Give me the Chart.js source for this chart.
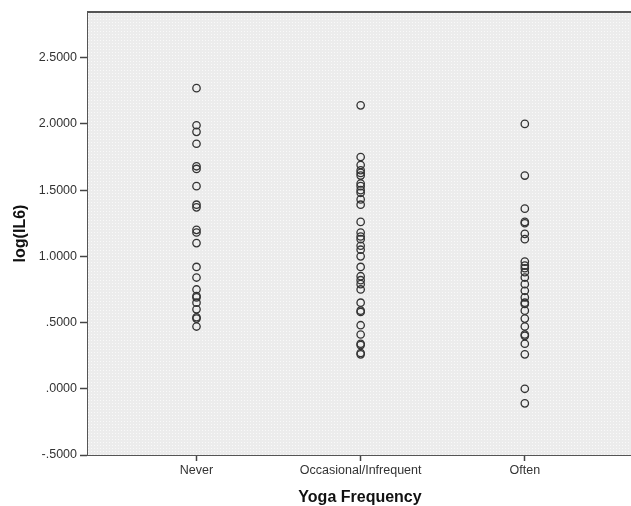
<!DOCTYPE html>
<html>
<head>
<meta charset="utf-8">
<script src="https://cdn.jsdelivr.net/npm/chart.js@4"></script>
<style>
  html, body { margin: 0; padding: 0; background: #fff; overflow: hidden; }
  /* plot runs off the right edge in the original, so the canvas is a bit wider than the window */
  #wrap { width: 637px; height: 506px; position: relative; }
</style>
</head>
<body>
<div id="wrap"><canvas id="yogaChart"></canvas></div>
<script>
// categories on the x axis
const categories = ['Never', 'Occasional/Infrequent', 'Often']

// log(IL6) values, one array per category
const never = [2.27, 1.99, 1.94, 1.85, 1.68, 1.66, 1.53, 1.39, 1.37, 1.20, 1.18, 1.10,
  0.92, 0.84, 0.75, 0.70, 0.69, 0.65, 0.60, 0.54, 0.53, 0.47]
const occasional = [2.14, 1.75, 1.69, 1.65, 1.63, 1.61, 1.55, 1.53, 1.50, 1.48, 1.43, 1.39,
  1.26, 1.18, 1.15, 1.13, 1.08, 1.05, 1.00, 0.92, 0.85, 0.82, 0.79, 0.75, 0.65, 0.59,
  0.58, 0.48, 0.41, 0.34, 0.33, 0.27, 0.26]
const often = [2.00, 1.61, 1.36, 1.26, 1.25, 1.17, 1.13, 0.96, 0.93, 0.91, 0.88, 0.84,
  0.79, 0.74, 0.69, 0.65, 0.64, 0.59, 0.53, 0.47, 0.41, 0.40, 0.34, 0.26, 0.00, -0.11]

// y tick values and their labels
const yTicks = [-0.5, 0, 0.5, 1, 1.5, 2, 2.5]
const yTickLabels = ['-.5000', '.0000', '.5000', '1.0000', '1.5000', '2.0000', '2.5000']

const series = [never, occasional, often]
const points = []
series.forEach((values, i) => {
  values.forEach(v => points.push({ x: i + 1, y: v }))
})

function makePattern() {
  const c = document.createElement('canvas')
  c.width = 3
  c.height = 3
  const g = c.getContext('2d')
  g.fillStyle = '#ececec'
  g.fillRect(0, 0, 3, 3)
  g.fillStyle = '#f9f9f9'
  g.fillRect(1, 1, 1, 1)
  return g.createPattern(c, 'repeat')
}

const plotFrame = {
  id: 'plotFrame',
  beforeDatasetsDraw(chart) {
    const { ctx, chartArea } = chart
    ctx.save()
    ctx.fillStyle = makePattern()
    ctx.fillRect(chartArea.left, chartArea.top, chartArea.right - chartArea.left, chartArea.bottom - chartArea.top)
    ctx.restore()
  },
  afterDatasetsDraw(chart) {
    const { ctx, chartArea } = chart
    ctx.save()
    ctx.strokeStyle = '#555'
    ctx.lineWidth = 2
    ctx.beginPath()
    ctx.moveTo(chartArea.left, chartArea.top)
    ctx.lineTo(chartArea.right, chartArea.top)
    ctx.stroke()
    ctx.restore()
  }
}

const tickFont = { family: 'Arial, "Liberation Sans", sans-serif', size: 12.5 }
const titleFont = { family: 'Arial, "Liberation Sans", sans-serif', size: 16, weight: 'bold' }

new Chart(document.getElementById('yogaChart'), {
  type: 'scatter',
  data: {
    datasets: [{
      label: 'log(IL6)',
      data: points,
      pointStyle: 'circle',
      pointRadius: 3.7,
      pointHoverRadius: 3.7,
      pointBorderWidth: 1.3,
      pointBorderColor: '#333',
      pointBackgroundColor: 'rgba(0,0,0,0)'
    }]
  },
  options: {
    responsive: true,
    maintainAspectRatio: false,
    animation: false,
    layout: { padding: { top: 12, right: 0, left: 0, bottom: 0 } },
    plugins: {
      legend: { display: false },
      tooltip: { enabled: false }
    },
    scales: {
      x: {
        type: 'linear',
        min: 0.339,
        max: 3.653,
        afterBuildTicks: scale => { scale.ticks = [1, 2, 3].map(v => ({ value: v })) },
        afterFit: scale => { scale.height = 51 },
        ticks: {
          color: '#333',
          font: tickFont,
          padding: 2,
          maxRotation: 0,
          callback: v => categories[v - 1]
        },
        grid: { drawOnChartArea: false, drawTicks: true, tickLength: 6, tickColor: '#444', tickWidth: 1.5 },
        border: { display: true, color: '#555', width: 2 },
        title: { display: true, text: 'Yoga Frequency', color: '#111', font: titleFont, padding: { top: 0, bottom: -1 } }
      },
      y: {
        min: -0.5,
        max: 2.845,
        afterBuildTicks: scale => { scale.ticks = yTicks.map(v => ({ value: v })) },
        afterFit: scale => { scale.width = 88 },
        ticks: {
          color: '#333',
          font: tickFont,
          padding: 3,
          callback: v => yTickLabels[yTicks.indexOf(v)]
        },
        grid: { drawOnChartArea: false, drawTicks: true, tickLength: 8, tickColor: '#444', tickWidth: 1.5 },
        border: { display: true, color: '#555', width: 2 },
        title: { display: true, text: 'log(IL6)', color: '#111', font: titleFont, padding: { top: 11, bottom: 0 } }
      }
    }
  },
  plugins: [plotFrame]
})
</script>
</body>
</html>
